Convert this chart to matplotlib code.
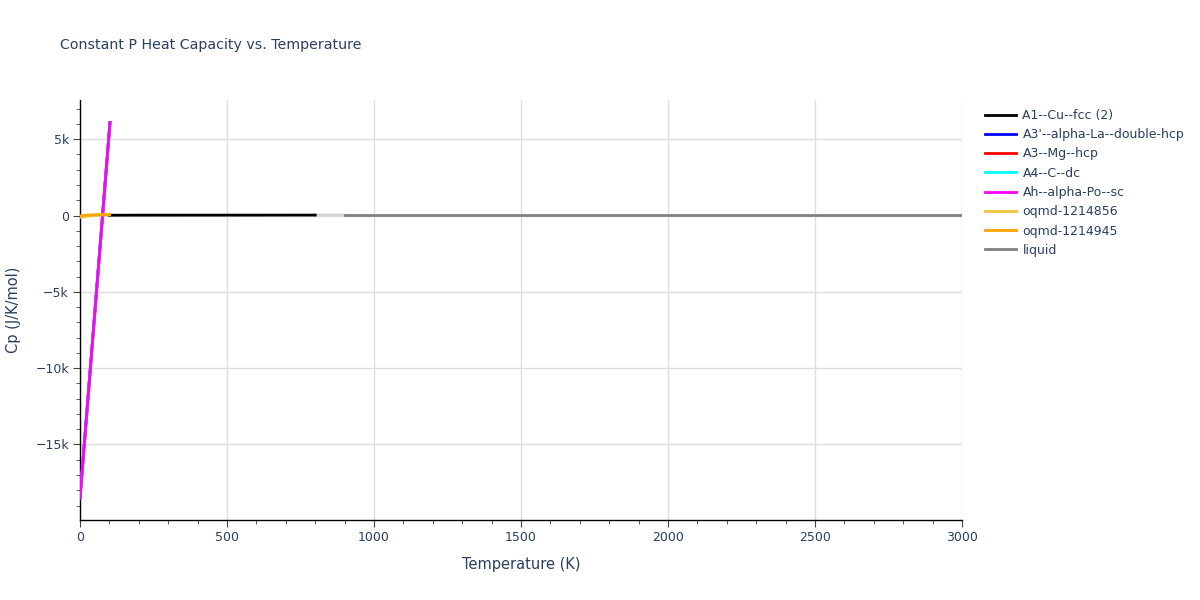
import matplotlib
matplotlib.use("Agg")
import matplotlib.pyplot as plt
from matplotlib.ticker import MultipleLocator, FuncFormatter

# Data
cu_T = [100, 200, 300, 400, 500, 600, 700, 800]
cu_Cp = [20, 24, 25, 26, 27, 28, 29, 30]
la_T = [0, 102]
la_Cp = [-18500, 6100]
mg_T = [0, 102]
mg_Cp = [-18500, 6100]
c_T = [0, 102]
c_Cp = [-18500, 6100]
po_T = [0, 102]
po_Cp = [-18500, 6100]
o1_T = [0, 25, 50, 75, 100]
o1_Cp = [-120, -40, 20, 40, 50]
o2_T = [0, 25, 50, 75, 100]
o2_Cp = [-20, 30, 50, 55, 60]
gap_T = [800, 900]
gap_Cp = [30, 32]
liq_T = [900, 1500, 2000, 2500, 3000]
liq_Cp = [32, 32, 32, 32, 32]

names = ["A1--Cu--fcc (2)", "A3'--alpha-La--double-hcp", "A3--Mg--hcp", "A4--C--dc",
         "Ah--alpha-Po--sc", "oqmd-1214856", "oqmd-1214945", "liquid"]
colors = ["black", "blue", "red", "cyan", "magenta", "#f0c23b", "orange", "grey"]

text_c = "#2a3f5f"
fig = plt.figure(figsize=(12, 6), dpi=100)
ax = fig.add_axes([80/1200, 1-520/600, (962-80)/1200, (520-100)/600])

series = [(cu_T, cu_Cp), (la_T, la_Cp), (mg_T, mg_Cp), (c_T, c_Cp),
          (po_T, po_Cp), (o1_T, o1_Cp), (o2_T, o2_Cp), (liq_T, liq_Cp)]
handles = []
for (t, c), n, col in zip(series, names, colors):
    h, = ax.plot(t, c, color=col, lw=2, label=n, zorder=3)
    handles.append(h)
ax.plot(gap_T, gap_Cp, color="#d3d3d3", lw=2, zorder=2)

ax.set_xlim(0, 3000)
ax.set_ylim(-19950, 7570)
ax.xaxis.set_major_locator(MultipleLocator(500))
ax.xaxis.set_minor_locator(MultipleLocator(100))
ax.yaxis.set_major_locator(MultipleLocator(5000))
ax.yaxis.set_minor_locator(MultipleLocator(1000))

def kfmt(v, p):
    if v == 0:
        return "0"
    s = f"{abs(v)/1000:g}k"
    return ("\u2212" if v < 0 else "") + s
ax.yaxis.set_major_formatter(FuncFormatter(kfmt))

ax.grid(True, which="major", color="#dedede", lw=1, zorder=0)
for s in ["top", "right"]:
    ax.spines[s].set_visible(False)
for s in ["left", "bottom"]:
    ax.spines[s].set_color("black")
    ax.spines[s].set_linewidth(1)
ax.tick_params(which="major", length=5, color="#444444", labelsize=9, labelcolor=text_c, pad=3)
ax.tick_params(which="minor", length=3, color="#444444")

ax.set_xlabel("Temperature (K)", fontsize=10.5, color=text_c, labelpad=9)
ax.set_ylabel("Cp (J/K/mol)", fontsize=10.5, color=text_c, labelpad=10)
fig.text(60/1200, 1-45/600, "Constant P Heat Capacity vs. Temperature", fontsize=10.2,
         color=text_c, va="center", ha="left")

leg = fig.legend(handles=handles, loc="upper left", bbox_to_anchor=(980/1200, 1-104/600),
                 frameon=False, fontsize=9, handlelength=2.5, handletextpad=0.5,
                 labelspacing=0.5, borderaxespad=0)
for t in leg.get_texts():
    t.set_color(text_c)

fig.savefig("out.png", dpi=100)
